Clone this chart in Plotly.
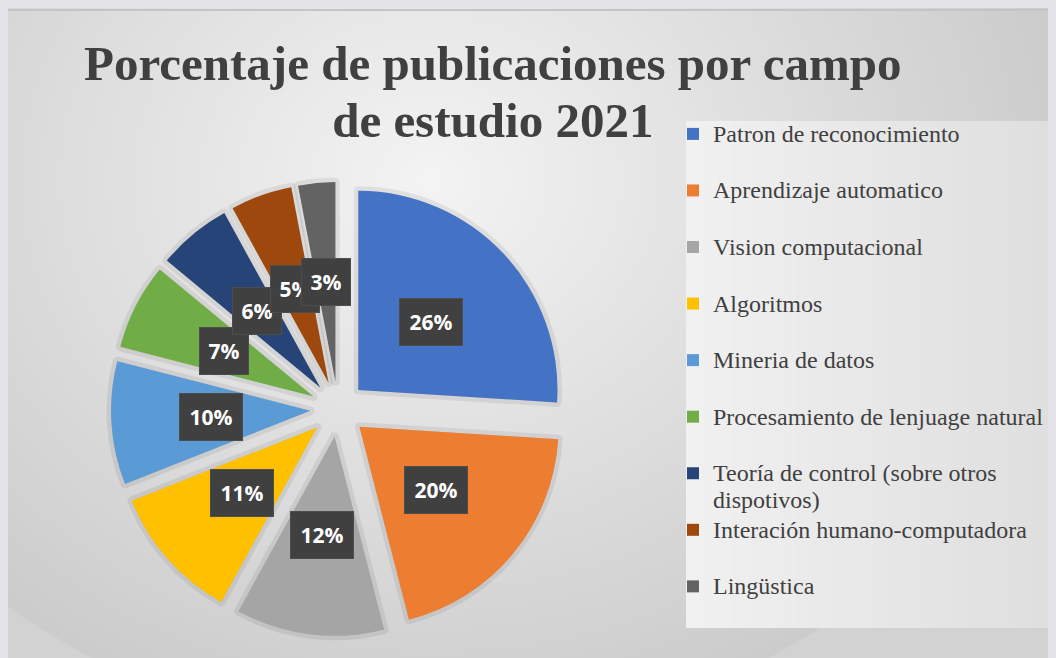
import math
import plotly.graph_objects as go

W, H = 1056, 658
OFF = 8  # the page keeps an 8px margin around the figure

campos = [
    "Patron de reconocimiento",
    "Aprendizaje automatico",
    "Vision computacional",
    "Algoritmos",
    "Mineria de datos",
    "Procesamiento de lenjuage natural",
    "Teoría de control (sobre otros<br>dispotivos)",
    "Interación humano-computadora",
    "Lingüstica",
]
porcentajes = [26, 20, 12, 11, 10, 7, 6, 5, 3]
colores = ["#4472C4", "#ED7D31", "#A5A5A5", "#FFC000", "#5B9BD5",
           "#70AD47", "#264478", "#9E480E", "#636363"]


def px(x):
    return (x - OFF) / W


def py(y):
    return 1 - (y - OFF) / H


PULL = 0.14
centro = (338, 409)
medio = 227
dom_x = [px(centro[0] - medio), px(centro[0] + medio)]
dom_y = [py(centro[1] + medio), py(centro[1] - medio)]

# every legend entry takes two lines, like the original
leyenda = []
for c in campos:
    lineas = c.split("<br>")
    if len(lineas) == 1:
        lineas.append("&nbsp;")
    leyenda.append("<br>".join(f"<span style='font-size:24px'>{l}</span>" for l in lineas))

fig = go.Figure()
# soft shadow under the slices
fig.add_trace(go.Pie(
    labels=leyenda, values=porcentajes, sort=False, direction="clockwise",
    rotation=0, pull=PULL, textinfo="none", hoverinfo="skip", showlegend=False,
    marker=dict(colors=["rgba(0,0,0,0.10)"] * len(porcentajes),
                line=dict(width=9, color="rgba(0,0,0,0.07)")),
    domain=dict(x=dom_x, y=dom_y),
))
fig.add_trace(go.Pie(
    labels=leyenda, values=porcentajes, sort=False, direction="clockwise",
    rotation=0, pull=PULL, textinfo="none", hoverinfo="percent",
    marker=dict(colors=colores, line=dict(width=0)),
    domain=dict(x=dom_x, y=dom_y),
))

# labels in dark boxes at half the radius of each (exploded) slice
R = 2 * medio / (2 + 2 * PULL)
total = sum(porcentajes)
acum = 0
for v in porcentajes:
    mid = (acum + v / 2) / total * 2 * math.pi
    acum += v
    dist = PULL * R + 0.5 * R
    lx = centro[0] + dist * math.sin(mid)
    ly = centro[1] - dist * math.cos(mid)
    txt = f"{v}%"
    fig.add_annotation(
        x=px(lx), y=py(ly), xref="paper", yref="paper", text=f"<b>{txt}</b>",
        xanchor="center", yanchor="middle", showarrow=False,
        font=dict(family="Open Sans", size=21, color="white"),
        bgcolor="#404040", bordercolor="#4d4d4d", borderwidth=1,
        width=14 * len(txt) + 4, height=30, borderpad=8,
    )

# soft radial gradient behind everything
shapes = []
pasos = 40
for i in range(pasos):
    f = 1 - i / pasos
    g = int(0xcb + (0xf3 - 0xcb) * (i + 1) / pasos)
    rx, ry = 650 * f, 560 * f
    ox, oy = 430, 180
    shapes.append(dict(type="circle", xref="paper", yref="paper",
                       x0=px(ox - rx), x1=px(ox + rx),
                       y0=py(oy + ry), y1=py(oy - ry),
                       fillcolor=f"rgb({g},{g},{g})", line=dict(width=0),
                       layer="below"))
shapes.append(dict(type="line", xref="paper", yref="paper", x0=0, x1=1,
                   y0=py(10), y1=py(10), line=dict(color="#c4c4c4", width=2),
                   layer="below"))
# legend panel, lighter on the left
tiras = 24
ancho = (1064 - 686) / tiras
for i in range(tiras):
    g = int(0xf1 - (0xf1 - 0xdf) * i / (tiras - 1))
    shapes.append(dict(type="rect", xref="paper", yref="paper",
                       x0=px(686 + i * ancho), x1=px(686 + (i + 1) * ancho + 0.5),
                       y0=py(628), y1=py(121), fillcolor=f"rgb({g},{g},{g})",
                       line=dict(width=0), layer="below"))

fig.add_annotation(
    x=px(493), y=py(92), xref="paper", yref="paper",
    xanchor="center", yanchor="middle",
    text=("<b><span style='font-size:49px'>Porcentaje de publicaciones por campo</span><br>"
          "<span style='font-size:49px'>de estudio 2021</span></b>"),
    showarrow=False, font=dict(family="Liberation Serif", size=44, color="#404040"),
)

fig.update_layout(
    width=W, height=H, margin=dict(l=0, r=0, t=0, b=0, autoexpand=False),
    paper_bgcolor="#d2d2d2", plot_bgcolor="rgba(0,0,0,0)",
    shapes=shapes, showlegend=True,
    legend=dict(x=px(673), y=py(114), xanchor="left", yanchor="top",
                bgcolor="rgba(0,0,0,0)", valign="top",
                font=dict(family="Liberation Serif", size=20.6, color="#404040")),
)

fig.write_html("out.html", post_script="document.body.style.background='#e4e4e9';")
